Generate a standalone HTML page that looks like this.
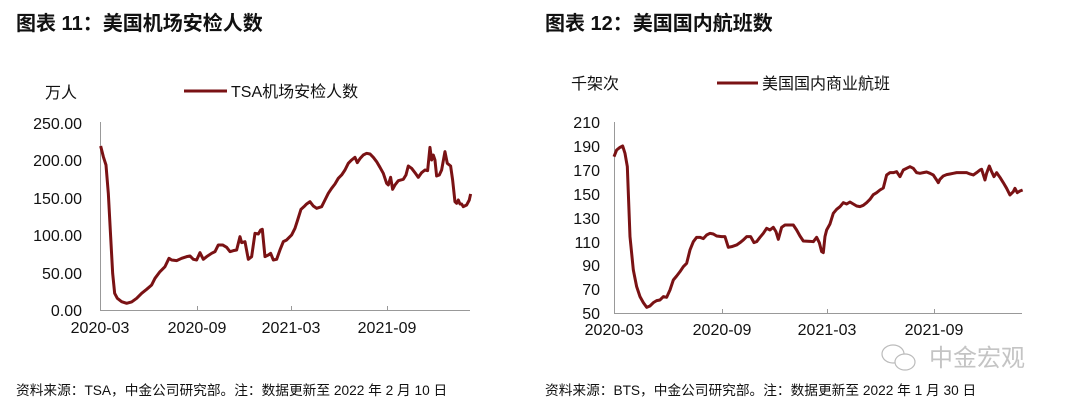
<!DOCTYPE html>
<html><head><meta charset="utf-8"><style>
html,body{margin:0;padding:0;background:#fff;}
svg text{font-family:"Liberation Sans","Noto Sans CJK SC",sans-serif;fill:#111;}
</style></head><body>
<svg width="1080" height="405" viewBox="0 0 1080 405" xmlns="http://www.w3.org/2000/svg">
<rect width="1080" height="405" fill="#fff"/>
<text x="16" y="30" font-size="20" font-weight="bold">图表 11：美国机场安检人数</text>
<text x="545" y="30" font-size="20" font-weight="bold">图表 12：美国国内航班数</text>

<!-- chart 1 -->
<text x="45" y="98" font-size="16">万人</text>
<line x1="184" y1="91" x2="227" y2="91" stroke="#7a1214" stroke-width="3"/>
<text x="231" y="97" font-size="16">TSA机场安检人数</text>
<g font-size="16" text-anchor="end">
<text x="82" y="129">250.00</text>
<text x="82" y="166">200.00</text>
<text x="82" y="204">150.00</text>
<text x="82" y="241">100.00</text>
<text x="82" y="279">50.00</text>
<text x="82" y="316">0.00</text>
</g>
<line x1="100.5" y1="122" x2="100.5" y2="310" stroke="#999" stroke-width="1"/>
<line x1="100" y1="310.5" x2="470" y2="310.5" stroke="#999" stroke-width="1"/>
<g stroke="#999"><line x1="197.5" y1="306" x2="197.5" y2="310"/><line x1="291.5" y1="306" x2="291.5" y2="310"/><line x1="387.5" y1="306" x2="387.5" y2="310"/></g>
<g font-size="16" text-anchor="middle">
<text x="100" y="333">2020-03</text><text x="197" y="333">2020-09</text><text x="291" y="333">2021-03</text><text x="387" y="333">2021-09</text>
</g>
<g transform="translate(0,60) scale(0.3333)">
<polyline fill="none" stroke="#7a1214" stroke-width="9" stroke-linejoin="round" points="302,258 310,290 318,315 325,400 332,530 338,640 344,700 352,715 365,725 380,730 395,726 410,715 425,700 440,688 455,675 465,655 480,635 495,620 507,595 515,600 530,602 545,595 560,590 570,588 580,598 590,600 600,578 610,598 620,590 635,580 645,575 655,555 668,555 680,562 690,575 700,572 710,570 720,530 725,548 735,545 745,598 755,590 765,520 775,522 782,510 787,508 795,590 805,585 812,580 820,600 830,598 840,570 850,545 860,540 875,525 885,505 893,480 903,448 912,440 920,432 930,425 940,438 950,445 965,440 975,420 985,400 995,385 1005,372 1015,355 1025,345 1035,330 1045,310 1055,300 1065,292 1072,308 1080,296 1090,285 1100,280 1110,282 1120,292 1130,305 1140,322 1150,340 1160,370 1165,375 1172,352 1178,388 1185,375 1195,362 1210,358 1218,345 1225,318 1235,325 1245,338 1255,352 1265,338 1275,330 1283,332 1290,262 1295,300 1300,285 1305,300 1310,348 1318,345 1325,330 1335,275 1342,310 1352,318 1358,360 1365,425 1370,430 1375,420 1380,432 1385,432 1390,440 1400,435 1408,420 1412,402"/>
</g>
<text x="16" y="395" font-size="13.7">资料来源：TSA，中金公司研究部。注：数据更新至 2022 年 2 月 10 日</text>

<!-- chart 2 -->
<text x="571" y="89" font-size="16">千架次</text>
<line x1="717" y1="83" x2="758" y2="83" stroke="#7a1214" stroke-width="3"/>
<text x="762" y="89" font-size="16">美国国内商业航班</text>
<g font-size="16" text-anchor="end">
<text x="600" y="128">210</text><text x="600" y="152">190</text><text x="600" y="176">170</text><text x="600" y="200">150</text><text x="600" y="224">130</text><text x="600" y="248">110</text><text x="600" y="271">90</text><text x="600" y="295">70</text><text x="600" y="319">50</text>
</g>
<line x1="614.5" y1="122" x2="614.5" y2="313" stroke="#999"/>
<line x1="614" y1="313.5" x2="1022" y2="313.5" stroke="#999"/>
<g stroke="#999"><line x1="722.5" y1="309" x2="722.5" y2="313"/><line x1="827.5" y1="309" x2="827.5" y2="313"/><line x1="934.5" y1="309" x2="934.5" y2="313"/></g>
<g font-size="16" text-anchor="middle">
<text x="614" y="335">2020-03</text><text x="722" y="335">2020-09</text><text x="827" y="335">2021-03</text><text x="934" y="335">2021-09</text>
</g>
<g transform="translate(540,60) scale(0.3333)">
<polyline fill="none" stroke="#7a1214" stroke-width="9" stroke-linejoin="round" points="222,290 230,270 240,262 248,258 255,280 262,320 270,530 280,630 290,680 300,710 310,728 320,742 330,738 340,728 350,722 360,720 370,710 380,712 390,690 400,660 410,648 420,635 430,620 440,610 450,570 460,545 470,532 480,532 490,536 500,525 510,520 520,522 530,528 545,530 555,530 565,562 575,560 590,555 600,548 610,540 620,530 632,530 642,548 650,545 660,532 670,520 680,505 690,510 700,502 708,515 715,538 725,502 735,495 745,495 760,495 770,510 780,528 790,543 810,544 820,545 830,532 838,548 845,575 850,578 855,530 860,510 870,492 880,460 890,448 900,440 910,428 920,432 930,426 940,432 950,438 960,440 970,436 980,428 990,418 1000,404 1010,398 1020,390 1030,384 1040,345 1050,338 1060,338 1070,335 1080,350 1090,330 1100,325 1110,320 1120,325 1130,338 1140,340 1150,338 1160,336 1170,340 1180,345 1190,360 1195,368 1200,358 1210,348 1220,344 1230,342 1240,340 1250,338 1260,338 1270,338 1280,338 1290,342 1300,345 1310,338 1320,330 1325,328 1335,360 1340,340 1348,318 1355,335 1362,350 1370,338 1380,352 1390,368 1400,385 1410,405 1420,395 1425,385 1432,398 1440,393 1448,390"/>
</g>
<!-- watermark -->
<g stroke="#bbb" fill="none" stroke-width="1.2">
<ellipse cx="893" cy="354" rx="11" ry="9"/>
<ellipse cx="905" cy="362" rx="10" ry="8" fill="#fff"/>
</g>
<text x="929" y="366" font-size="24" fill="#c4c4c4" style="fill:#c4c4c4">中金宏观</text>
<text x="545" y="395" font-size="13.7">资料来源：BTS，中金公司研究部。注：数据更新至 2022 年 1 月 30 日</text>
</svg>
</body></html>
